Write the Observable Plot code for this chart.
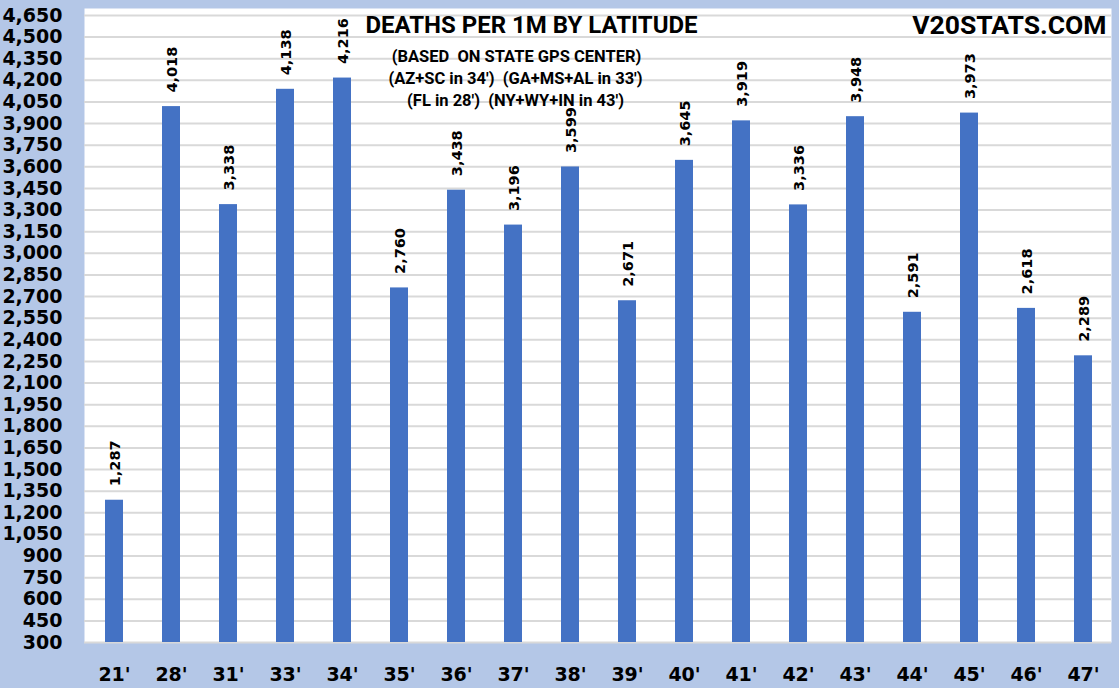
<!DOCTYPE html>
<html>
<head>
<meta charset="utf-8">
<script src="https://cdn.jsdelivr.net/npm/d3@7"></script>
<script src="https://cdn.jsdelivr.net/npm/@observablehq/plot@0.6"></script>
<style>
  html, body { margin: 0; padding: 0; background: #b4c7e7; }
  #chart { width: 1119px; height: 688px; overflow: hidden; }
</style>
</head>
<body>
<div id="chart"></div>
<script>
const categories = ["21'", "28'", "31'", "33'", "34'", "35'", "36'", "37'", "38'", "39'", "40'", "41'", "42'", "43'", "44'", "45'", "46'", "47'"];
const deaths = [1287, 4018, 3338, 4138, 4216, 2760, 3438, 3196, 3599, 2671, 3645, 3919, 3336, 3948, 2591, 3973, 2618, 2289];
const yTicks = [300, 450, 600, 750, 900, 1050, 1200, 1350, 1500, 1650, 1800, 1950, 2100, 2250, 2400, 2550, 2700, 2850, 3000, 3150, 3300, 3450, 3600, 3750, 3900, 4050, 4200, 4350, 4500, 4650];
const title = "DEATHS PER 1M BY LATITUDE";
const subtitles = ["(BASED  ON STATE GPS CENTER)", "(AZ+SC in 34')  (GA+MS+AL in 33')", "(FL in 28')  (NY+WY+IN in 43')"];
const brand = "V20STATS.COM";

const data = categories.map((c, i) => ({lat: c, value: deaths[i]}));
const fmt = d3.format(",");
const numFont = "DejaVu Sans, Verdana, sans-serif";
const capFont = "Roboto, Liberation Sans, sans-serif";

const subStyle = {frameAnchor: "top-left", text: d => d, textAnchor: "middle", lineAnchor: "middle", fontSize: 16.5, fontWeight: "bold", fill: "black", fontFamily: capFont};

const chart = Plot.plot({
  width: 1119,
  height: 688,
  marginLeft: 84,
  marginRight: 8,
  marginTop: 8,
  marginBottom: 46,
  style: {background: "#b4c7e7", fontFamily: numFont, color: "black"},
  x: {domain: categories, range: [84.4, 1112.6], paddingInner: 0.68, paddingOuter: 0.34, label: null},
  y: {domain: [300, 4650], range: [642, 15], label: null},
  marks: [
    Plot.frame({fill: "white", stroke: null}),
    Plot.ruleY(yTicks, {stroke: "#d9d9d9", strokeWidth: 2}),
    Plot.barY(data, {x: "lat", y1: 300, y2: "value", fill: "#4472c4"}),
    Plot.text(data, {x: "lat", y: "value", text: d => fmt(d.value), rotate: -90, textAnchor: "start", lineAnchor: "middle", dy: -14, dx: 1, fontSize: 14.5, fontWeight: "bold", fill: "black", fontFamily: numFont}),
    Plot.axisY(yTicks, {tickSize: 0, tickPadding: 22, tickFormat: fmt, fontSize: 19, fontWeight: "bold", fill: "black", label: null, fontFamily: numFont}),
    Plot.axisX({tickSize: 0, tickPadding: 25, fontSize: 19, fontWeight: "bold", fill: "black", label: null, fontFamily: numFont}),
    Plot.text([title], {frameAnchor: "top-left", dx: 531 - 84, dy: 25 - 8, text: d => d, textAnchor: "middle", lineAnchor: "middle", fontSize: 24, fontWeight: "bold", fill: "black", fontFamily: capFont}),
    Plot.text([subtitles[0]], {...subStyle, dx: 516 - 84, dy: 56 - 8}),
    Plot.text([subtitles[1]], {...subStyle, dx: 515 - 84, dy: 78 - 8}),
    Plot.text([subtitles[2]], {...subStyle, dx: 515 - 84, dy: 100 - 8}),
    Plot.text([brand], {frameAnchor: "top-right", dx: -(1119 - 8 - 1106), dy: 25 - 8, text: d => d, textAnchor: "end", lineAnchor: "middle", fontSize: 26.5, fontWeight: "bold", fill: "black", fontFamily: capFont})
  ]
});
document.getElementById("chart").appendChild(chart);
</script>
</body>
</html>
